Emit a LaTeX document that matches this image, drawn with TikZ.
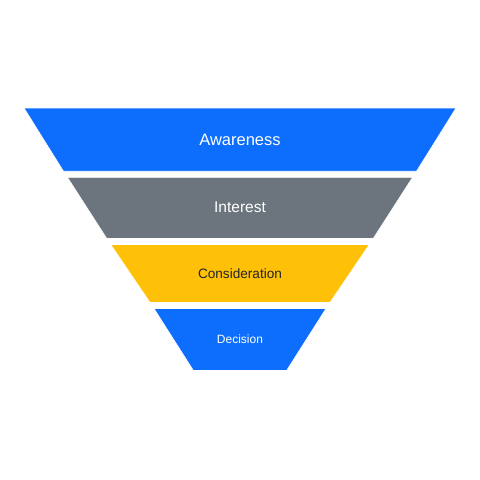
\documentclass[tikz,border=0pt]{standalone}
\usepackage{fontspec}
\setmainfont{Liberation Sans}
\definecolor{fblue}{HTML}{0D6EFD}
\definecolor{fgray}{HTML}{6C757D}
\definecolor{fyellow}{HTML}{FFC107}
\definecolor{fdark}{HTML}{212529}
\tikzset{
  layer/.style={draw=white, line width=0.6pt},
  lbl/.style={inner sep=0pt, font=#1}
}
\begin{document}
\begin{tikzpicture}[x=1pt,y=-1pt]
\useasboundingbox (0,0) rectangle (480,480);
% funnel edge: x_left(y) = 24 + 0.6426*(y-108); x_right = 480 - x_left
\fill[layer, fill=fblue]   (24,108)    -- (456,108)    -- (416.5,171.25) -- (63.5,171.25) -- cycle;
\fill[layer, fill=fgray]   (67.4,177.25) -- (412.6,177.25) -- (373.2,238.5) -- (106.8,238.5) -- cycle;
\fill[layer, fill=fyellow] (110.7,244.5) -- (369.3,244.5) -- (330,302.5)  -- (150,302.5)  -- cycle;
\fill[layer, fill=fblue]   (154,308.5) -- (326,308.5)  -- (286.6,370.5) -- (193.4,370.5) -- cycle;
\node[lbl={\fontsize{16.5}{18}\selectfont}, text=white] (aw) at (240,139.6) {Awareness};
\node[lbl={\fontsize{15.5}{18}\selectfont}, text=white] (in) at (240,207.6) {Interest};
\node[lbl={\fontsize{13.6}{16}\selectfont}, text=fdark] (co) at (240,273.3) {Consideration};
\node[lbl={\fontsize{12}{14}\selectfont}, text=white] (de) at (240,339.5) {Decision};
\end{tikzpicture}
\end{document}
